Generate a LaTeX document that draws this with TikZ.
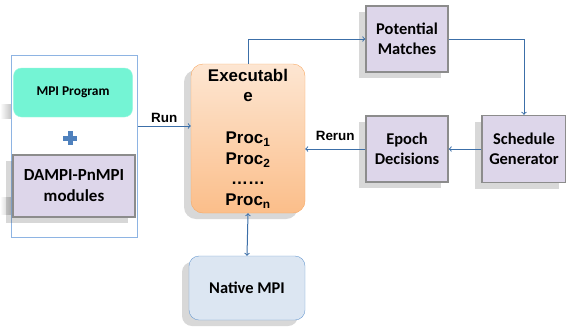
\documentclass[tikz,border=0pt]{standalone}
\usepackage{fontspec}
\setmainfont{Liberation Sans}
\newfontfamily\arialf{Liberation Sans}
\newfontfamily\calib{Carlito}
\usetikzlibrary{shadows}
\definecolor{arrowblue}{HTML}{3C6FA8}
\definecolor{lavender}{HTML}{DDD6EA}
\definecolor{progteal}{HTML}{74F4D4}
\definecolor{framebl}{HTML}{8EB4E3}
\definecolor{plusblue}{HTML}{4F81BD}
\definecolor{peachtop}{HTML}{FDE6D2}
\definecolor{peachbot}{HTML}{FBBE8A}
\definecolor{peachline}{HTML}{F8A862}
\definecolor{nativefill}{HTML}{DCE6F2}
\definecolor{nativeline}{HTML}{6A9BD1}

\begin{document}
\begin{tikzpicture}[x=1bp,y=-1bp,
    shade box/.style={drop shadow={shadow xshift=-7bp,shadow yshift=-6bp,opacity=.22,fill=black!70}},
    modbox/.style={shade box,draw=black!45,line width=1.5bp,fill=lavender,
        inner sep=0pt,align=center,font=\calib\bfseries\fontsize{16.5}{20}\selectfont},
    arr/.style={draw=arrowblue,line width=1bp,->},
    lbl/.style={font=\arialf\bfseries\fontsize{13.5}{16}\selectfont}]
    \useasboundingbox (0,0) rectangle (566,329);
    \shade[left color=white,right color=black!25] (0,104) rectangle (12,118);
    \shade[left color=white,right color=black!25] (0,197) rectangle (12,214);
    \node[draw=framebl,fill=white,line width=1bp,minimum width=125bp,minimum height=182bp] (frame) at (74.5,146) {};
    \node[fill=progteal,draw=progteal!70!white,rounded corners=8bp,minimum width=119bp,minimum height=49bp,
        font=\calib\bfseries\fontsize{13.5}{16}\selectfont] (prog) at (73,92.5) {MPI Program};
    \fill[plusblue] (67.5,131) rectangle (72.5,145);
    \fill[plusblue] (63,135.5) rectangle (77,140.5);
    \node[modbox,minimum width=122bp,minimum height=62bp,font=\calib\bfseries\fontsize{17}{21}\selectfont] (dampi) at (74,186) {DAMPI-PnMPI\\modules};
    \node[shade box,draw=peachline,top color=peachtop,bottom color=peachbot,rounded corners=12bp,
        minimum width=114bp,minimum height=149bp,align=center,font=\arialf\bfseries\fontsize{17}{21}\selectfont] (exec) at (248,138.5)
        {Executabl\\e\\[21bp]Proc\textsubscript{1}\\Proc\textsubscript{2}\\[-1bp]……\\Proc\textsubscript{n}};
    \node[modbox,minimum width=82bp,minimum height=66bp] (matches) at (407,39) {Potential\\Matches};
    \node[modbox,minimum width=84bp,minimum height=67bp] (sched) at (524,149) {Schedule\\Generator};
    \node[modbox,minimum width=82bp,minimum height=66bp] (epoch) at (407,149) {Epoch\\Decisions};
    \node[shade box,draw=nativeline,fill=nativefill,rounded corners=10bp,minimum width=116bp,minimum height=64bp,
        font=\calib\bfseries\fontsize{16.5}{20}\selectfont] (native) at (247,288) {Native MPI};
    \draw[arr] ([yshift=20bp]frame.east) -- ([yshift=20bp]frame.east -| exec.west) node[lbl,midway,above]{Run};
    \draw[arr] (exec.north) |- (matches.west);
    \draw[arr] (matches.east) -| (sched.north);
    \draw[arr] (sched.west) -- (epoch.east);
    \draw[arr] (epoch.west) -- (epoch.west -| exec.east) node[lbl,midway,above=5bp]{Rerun};
    \draw[arr,<->] (exec.south) -- (native.north);
\end{tikzpicture}
\end{document}
